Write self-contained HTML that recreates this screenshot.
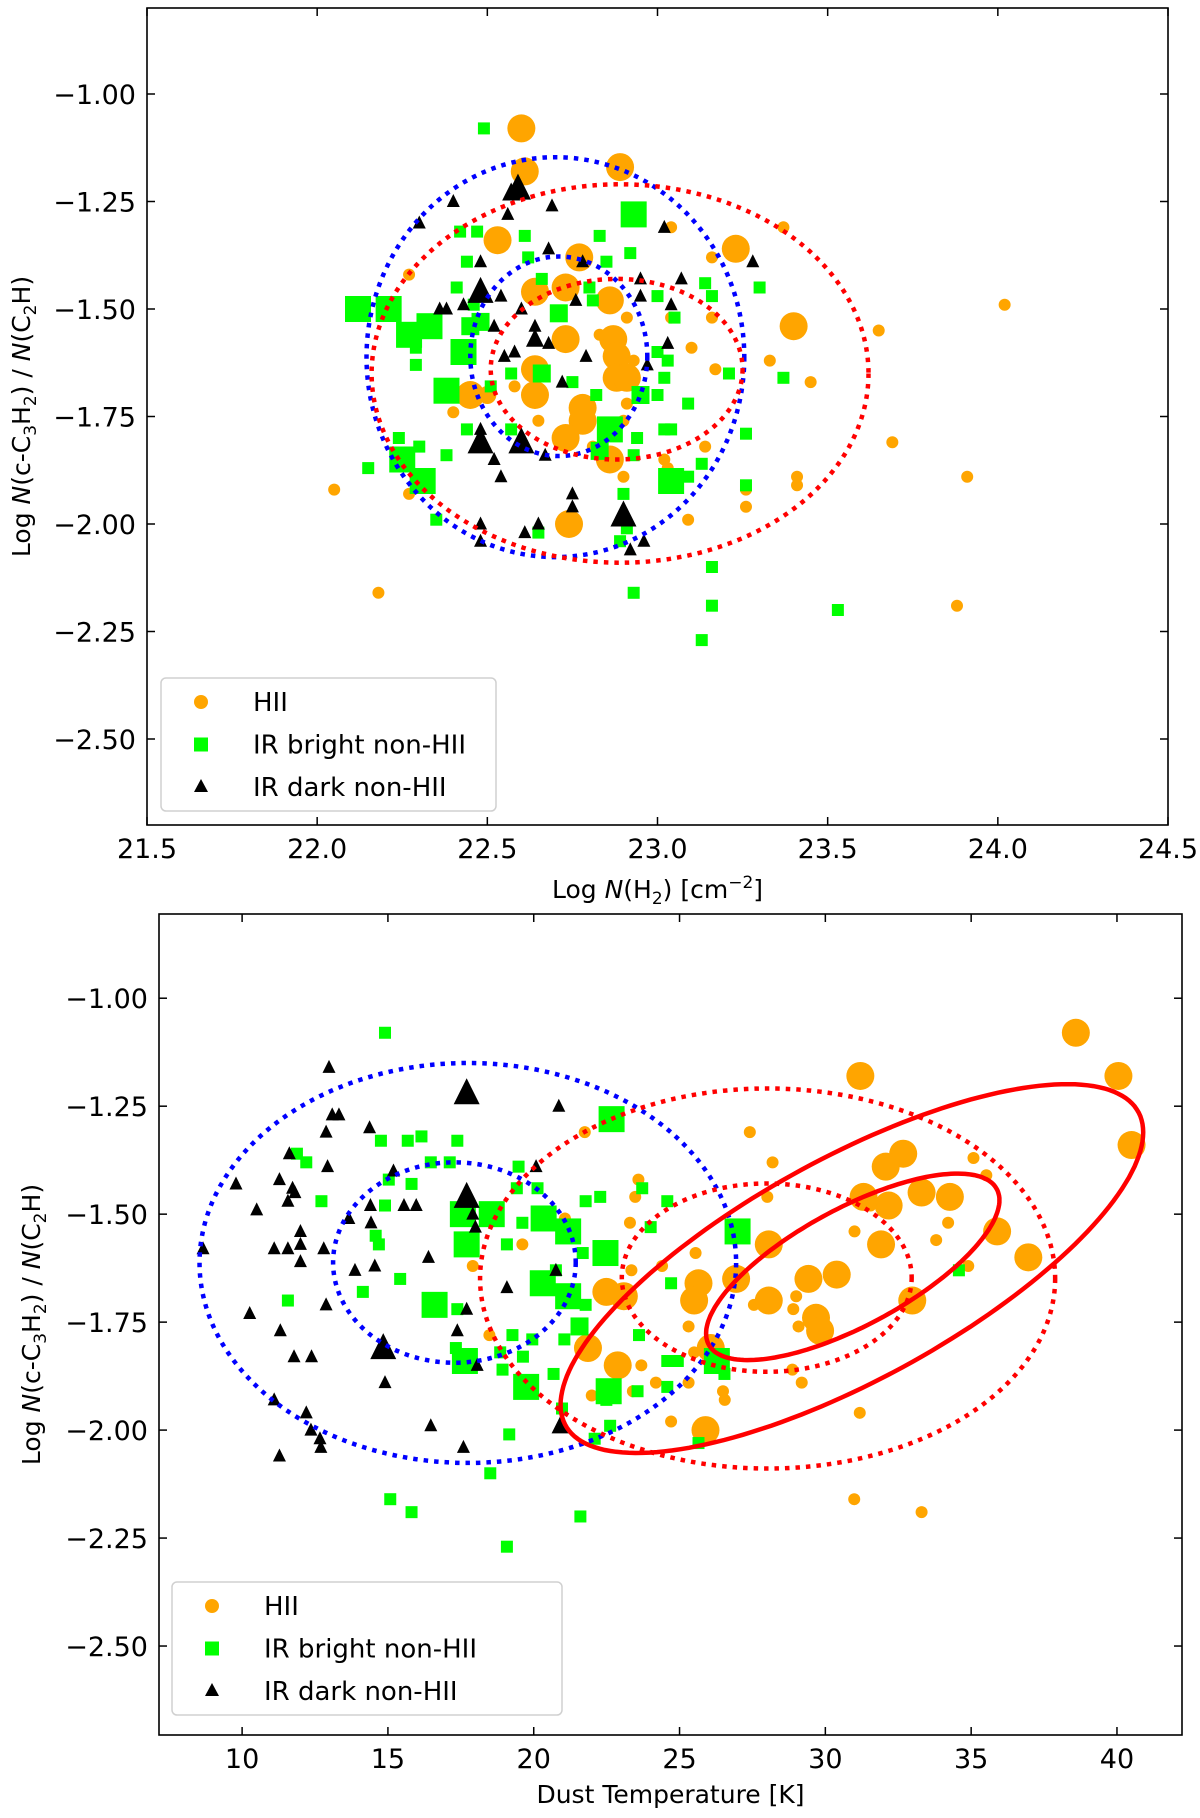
<!DOCTYPE html>
<html><head><meta charset="utf-8"><style>
html,body{margin:0;padding:0;background:#fff;}
svg{display:block;font-family:"DejaVu Sans","Liberation Sans",sans-serif;}
</style></head>
<body>
<svg id="fig" width="1200" height="1818" viewBox="0 0 1200 1818" xmlns="http://www.w3.org/2000/svg"></svg>
<script>
// ---------- data: top panel (Log N(H2)) ----------
const topHiiX=[22.60,22.61,22.89,22.53,23.23,23.37,23.04,22.27,23.16,22.64,22.73,22.77,22.86,23.40,23.65,24.02,22.73,22.87,22.88,22.88,22.91,22.64,22.64,22.45,22.50,22.78,22.78,22.73,22.86,22.74,23.04,23.10,23.16,23.17,23.33,23.45,23.69,23.41,23.91,23.41,23.26,23.26,23.09,23.14,23.02,23.03,22.90,22.27,22.05,22.18,23.88,22.40,22.65,22.58,22.91,22.83,22.93,22.90,22.91,22.81];
const topHiiY=[-1.08,-1.18,-1.17,-1.34,-1.36,-1.31,-1.31,-1.42,-1.38,-1.46,-1.45,-1.38,-1.48,-1.54,-1.55,-1.49,-1.57,-1.57,-1.61,-1.66,-1.66,-1.64,-1.70,-1.70,-1.70,-1.73,-1.76,-1.80,-1.85,-2.00,-1.52,-1.59,-1.52,-1.64,-1.62,-1.67,-1.81,-1.89,-1.89,-1.91,-1.92,-1.96,-1.99,-1.82,-1.85,-1.87,-1.89,-1.93,-1.92,-2.16,-2.19,-1.74,-1.76,-1.68,-1.52,-1.56,-1.62,-1.76,-1.72,-1.82];
const topHiiS=[3,3,3,3,3,1,1,1,1,3,3,3,3,3,1,1,3,3,3,3,3,3,3,3,2,3,3,3,3,3,1,1,1,1,1,1,1,1,1,1,1,1,1,1,1,1,1,1,1,1,1,1,1,1,1,1,1,1,1,1];
const topBrX=[22.49,22.93,22.61,22.42,22.47,22.83,22.92,22.85,22.62,22.44,22.41,22.12,22.21,22.27,22.33,22.29,22.29,22.38,22.43,22.45,22.71,22.66,22.80,22.81,22.66,22.75,22.82,22.95,23.00,23.02,23.09,23.03,23.00,23.05,23.00,23.14,23.16,23.21,23.30,23.37,22.86,22.83,22.94,22.93,23.02,23.04,23.13,23.04,23.09,23.26,23.26,23.16,23.16,23.13,23.53,22.93,22.89,22.91,22.90,22.65,22.35,22.31,22.25,22.24,22.30,22.15,22.38,22.44,22.57,22.51,22.48,22.46,22.57];
const topBrY=[-1.08,-1.28,-1.33,-1.32,-1.32,-1.33,-1.37,-1.39,-1.38,-1.39,-1.45,-1.50,-1.50,-1.56,-1.54,-1.63,-1.59,-1.69,-1.60,-1.54,-1.51,-1.43,-1.45,-1.48,-1.65,-1.67,-1.70,-1.70,-1.70,-1.66,-1.72,-1.62,-1.60,-1.52,-1.47,-1.44,-1.47,-1.65,-1.45,-1.66,-1.78,-1.83,-1.80,-1.84,-1.78,-1.78,-1.86,-1.90,-1.89,-1.79,-1.91,-2.10,-2.19,-2.27,-2.20,-2.16,-2.04,-2.01,-1.93,-2.02,-1.99,-1.90,-1.85,-1.80,-1.82,-1.87,-1.84,-1.78,-1.78,-1.68,-1.53,-1.49,-1.65];
const topBrS=[1,3,1,1,1,1,1,1,1,1,1,3,3,3,3,1,1,3,3,2,2,1,1,1,2,1,1,2,1,1,1,1,1,1,1,1,1,1,1,1,3,2,1,1,1,1,1,3,1,1,1,1,1,1,1,1,1,1,1,1,1,3,3,1,1,1,1,1,1,1,2,1,1];
const topDkX=[22.59,22.57,22.69,22.40,22.30,22.56,23.02,23.28,23.07,22.95,22.48,22.48,22.43,22.36,22.38,22.54,22.68,22.78,22.76,22.95,22.60,22.52,22.64,22.64,22.68,22.55,22.58,22.79,23.03,23.04,22.97,22.72,22.48,22.60,22.48,22.67,22.52,22.54,22.75,22.75,22.90,22.48,22.48,22.65,22.61,22.92,22.96];
const topDkY=[-1.22,-1.23,-1.26,-1.25,-1.30,-1.28,-1.31,-1.39,-1.43,-1.43,-1.39,-1.46,-1.49,-1.50,-1.50,-1.47,-1.36,-1.39,-1.48,-1.47,-1.50,-1.54,-1.54,-1.57,-1.58,-1.61,-1.60,-1.61,-1.58,-1.49,-1.63,-1.67,-1.81,-1.81,-1.78,-1.84,-1.85,-1.89,-1.93,-1.96,-1.98,-2.00,-2.04,-2.00,-2.02,-2.06,-2.04];
const topDkS=[3,2,1,1,1,1,1,1,1,1,1,3,1,1,1,1,1,1,1,1,1,1,1,2,1,1,1,1,1,1,1,1,3,3,1,1,1,1,1,1,3,1,1,1,1,1,1];
// ellipses (center x, center y, radius x, radius y)
const topEllBlue=[[22.70,-1.612,0.555,0.465],[22.71,-1.610,0.26,0.232]];
const topEllRed=[[22.89,-1.650,0.73,0.44],[22.88,-1.640,0.37,0.21]];
const topXTicks=[21.5,22.0,22.5,23.0,23.5,24.0,24.5];
const topXLabels=["21.5","22.0","22.5","23.0","23.5","24.0","24.5"];
const yTicks=[-1.00,-1.25,-1.50,-1.75,-2.00,-2.25,-2.50];
const yLabels=["\u22121.00","\u22121.25","\u22121.50","\u22121.75","\u22122.00","\u22122.25","\u22122.50"];

// ---------- data: bottom panel (Dust temperature) ----------
const botHiiX=[38.59,31.20,40.05,40.50,27.41,21.75,28.19,32.67,32.07,35.08,35.52,33.30,34.27,31.31,32.17,31.55,28.01,23.59,23.48,23.30,21.07,28.06,31.00,31.91,33.80,34.21,35.89,36.96,34.90,25.55,26.94,25.65,25.50,22.49,23.09,24.40,23.35,28.06,29.42,30.39,29.0,28.9,27.55,29.68,29.82,29.08,32.98,25.31,26.07,25.50,21.86,18.48,17.91,19.61,22.88,23.69,24.19,23.40,21.99,25.31,26.49,26.55,25.89,24.71,28.87,29.19,31.18,30.99,33.30];
const botHiiY=[-1.08,-1.18,-1.18,-1.34,-1.31,-1.31,-1.38,-1.36,-1.39,-1.37,-1.41,-1.45,-1.46,-1.46,-1.48,-1.48,-1.46,-1.42,-1.46,-1.52,-1.51,-1.57,-1.54,-1.57,-1.56,-1.52,-1.54,-1.60,-1.62,-1.59,-1.65,-1.66,-1.70,-1.68,-1.69,-1.62,-1.63,-1.70,-1.65,-1.64,-1.69,-1.72,-1.71,-1.74,-1.77,-1.76,-1.70,-1.76,-1.81,-1.82,-1.81,-1.78,-1.62,-1.57,-1.85,-1.85,-1.89,-1.91,-1.92,-1.89,-1.91,-1.93,-2.00,-1.98,-1.86,-1.89,-1.96,-2.16,-2.19];
const botHiiS=[3,3,3,3,1,1,1,3,3,1,1,3,3,3,3,1,1,1,1,1,1,3,1,3,1,1,3,3,1,1,3,3,3,3,3,1,1,3,3,3,1,1,1,3,3,1,3,1,3,1,3,1,1,1,3,1,1,1,1,1,1,1,3,1,1,1,1,1,1];
const botBrX=[14.90,22.67,17.38,16.15,15.68,14.76,11.88,12.20,17.12,16.47,15.81,15.03,12.72,14.90,14.58,14.69,14.14,11.57,15.42,16.60,17.38,17.57,18.56,17.70,19.48,20.13,19.42,19.61,19.08,20.34,21.18,20.31,21.18,20.76,21.78,22.28,22.46,21.68,21.78,21.57,21.05,19.27,19.95,19.63,18.85,18.93,17.64,17.33,19.74,20.68,22.57,22.49,23.56,24.58,24.94,24.58,23.61,24.58,23.72,24.01,24.71,26.99,26.28,26.54,25.65,22.62,22.09,19.16,18.51,15.08,15.81,21.60,19.08,34.58,20.97];
const botBrY=[-1.08,-1.28,-1.33,-1.32,-1.33,-1.33,-1.36,-1.38,-1.38,-1.38,-1.43,-1.42,-1.47,-1.48,-1.55,-1.57,-1.68,-1.70,-1.65,-1.71,-1.72,-1.50,-1.50,-1.57,-1.39,-1.44,-1.44,-1.52,-1.57,-1.51,-1.54,-1.66,-1.69,-1.63,-1.47,-1.46,-1.59,-1.59,-1.71,-1.76,-1.79,-1.78,-1.79,-1.83,-1.82,-1.86,-1.84,-1.81,-1.90,-1.87,-1.91,-1.93,-1.91,-1.90,-1.84,-1.84,-1.78,-1.47,-1.44,-1.53,-1.66,-1.54,-1.84,-1.87,-2.03,-1.99,-2.02,-2.01,-2.10,-2.16,-2.19,-2.20,-2.27,-1.63,-1.95];
const botBrS=[1,3,1,1,1,1,1,1,1,1,1,1,1,1,1,1,1,1,1,3,1,3,3,3,1,1,1,1,1,3,3,3,3,1,1,1,3,1,1,2,1,1,1,1,1,1,3,1,3,1,3,1,1,1,1,1,1,1,1,1,1,3,3,1,1,1,1,1,1,1,1,1,1,1,1];
const botDkX=[8.66,9.79,10.50,10.26,11.10,11.31,11.10,11.28,11.62,11.28,11.57,11.73,11.81,11.57,12.0,12.0,12.0,11.78,12.20,12.36,12.38,12.67,12.70,12.80,12.88,12.93,12.88,12.98,13.09,13.32,13.66,13.87,14.37,14.40,14.42,14.55,14.84,14.90,15.19,15.55,15.97,16.39,16.47,17.59,17.38,17.70,17.70,17.70,17.91,18.0,19.08,20.08,20.86,20.76,20.92,18.06];
const botDkY=[-1.58,-1.43,-1.49,-1.73,-1.58,-1.77,-1.93,-2.06,-1.36,-1.42,-1.47,-1.44,-1.45,-1.58,-1.54,-1.57,-1.61,-1.83,-1.96,-2.00,-1.83,-2.02,-2.04,-1.58,-1.71,-1.39,-1.31,-1.16,-1.27,-1.27,-1.51,-1.63,-1.30,-1.48,-1.52,-1.62,-1.81,-1.89,-1.40,-1.48,-1.48,-1.60,-1.99,-2.04,-1.77,-1.72,-1.22,-1.46,-1.50,-1.53,-1.67,-1.39,-1.25,-1.63,-1.99,-1.85];
const botDkS=[1,1,1,1,1,1,1,1,1,1,1,1,1,1,1,1,1,1,1,1,1,1,1,1,1,1,1,1,1,1,1,1,1,1,1,1,3,1,1,1,1,1,1,1,1,1,3,3,1,1,1,1,1,1,2,1];
const botEllBlue=[[17.74,-1.613,9.2,0.463],[17.28,-1.612,4.16,0.232]];
const botEllRed=[[28.02,-1.649,9.86,0.44],[27.99,-1.647,4.97,0.218]];
// tilted solid ellipses: center x, center y, vector A (dx,dy), vector B (dx,dy)
const botEllSolid=[[30.91,-1.626,9.99,0.3155,0,-0.2877],[30.94,-1.622,5.03,0.1543,0,-0.151]];
const botXTicks=[10,15,20,25,30,35,40];
const botXLabels=["10","15","20","25","30","35","40"];

const NS="http://www.w3.org/2000/svg";
const svg=document.getElementById('fig');
function mk(tag,attrs,parent){const e=document.createElementNS(NS,tag);for(const k in attrs)e.setAttribute(k,attrs[k]);(parent||svg).appendChild(e);return e;}

const ORANGE="#ffa500",GREEN="#00ff00";
const R={1:6,2:9,3:14};
const Q={1:6,2:9,3:13};
const T={1:6.5,2:9,3:13};

function panel(cfg){
  const g=mk('g',{});
  
  
  const L=cfg.L,Rt=cfg.R,Tp=cfg.T,B=cfg.B;
  const X=v=>L+(v-cfg.x0)/(cfg.x1-cfg.x0)*(Rt-L);
  const Y=v=>Tp+(cfg.y1-v)/(cfg.y1-cfg.y0)*(B-Tp);
  const clip=mk('clipPath',{id:cfg.name+'-clip'},g);
  mk('rect',{x:L,y:Tp,width:Rt-L,height:B-Tp},clip);
  const plot=mk('g',{'clip-path':'url(#'+cfg.name+'-clip)'},g);
  
  
  cfg.hx.forEach((v,i)=>{
    const c=mk('circle',{cx:X(v),cy:Y(cfg.hy[i]),r:R[cfg.hs[i]],fill:ORANGE},plot);
    
    
  });
  cfg.bx.forEach((v,i)=>{
    const h=Q[cfg.bs[i]];
    const c=mk('rect',{x:X(v)-h,y:Y(cfg.by[i])-h,width:2*h,height:2*h,fill:GREEN},plot);
    
    
  });
  cfg.dx.forEach((v,i)=>{
    const h=T[cfg.ds[i]],x=X(v),y=Y(cfg.dy[i]);
    const c=mk('polygon',{points:`${x},${y-h*1.15} ${x-h},${y+h*0.85} ${x+h},${y+h*0.85}`,fill:'#000'},plot);
    
    
  });
  const ell=(arr,color,nm)=>arr.forEach(e=>{
    const cx=X(e[0]),cy=Y(e[1]),rx=X(e[0]+e[2])-cx,ry=cy-Y(e[1]+e[3]);
    const el=mk('ellipse',{cx:cx,cy:cy,rx:rx,ry:ry,fill:'none',stroke:color,'stroke-width':4.5,'stroke-dasharray':'4.5,6'},plot);
    
    
  });
  ell(cfg.eb,'#0000ff','blue-dotted-ellipse');
  ell(cfg.er,'#ff0000','red-dotted-ellipse');
  if(cfg.es){cfg.es.forEach(e=>{
    let d='';
    for(let k=0;k<=180;k++){const t=k/180*2*Math.PI;
      const vx=e[0]+Math.cos(t)*e[2]+Math.sin(t)*e[4];
      const vy=e[1]+Math.cos(t)*e[3]+Math.sin(t)*e[5];
      d+=(k?'L':'M')+X(vx).toFixed(1)+','+Y(vy).toFixed(1);}
    const p=mk('path',{d:d+'Z',fill:'none',stroke:'#ff0000','stroke-width':4.5},plot);
    
    
  });}
  const fr=mk('rect',{x:L,y:Tp,width:Rt-L,height:B-Tp,fill:'none',stroke:'#000','stroke-width':1.6},g);
  
  
  cfg.xt.forEach((v,i)=>{
    const x=X(v);
    mk('line',{x1:x,y1:B,x2:x,y2:B-8,stroke:'#000','stroke-width':1.5},g);
    mk('line',{x1:x,y1:Tp,x2:x,y2:Tp+8,stroke:'#000','stroke-width':1.5},g);
    const t=mk('text',{x:x,y:B+33,'font-size':27,'text-anchor':'middle',fill:'#000'},g);
    t.textContent=cfg.xl[i];
    
    
  });
  yTicks.forEach((v,i)=>{
    const y=Y(v);
    mk('line',{x1:L,y1:y,x2:L+8,y2:y,stroke:'#000','stroke-width':1.5},g);
    mk('line',{x1:Rt,y1:y,x2:Rt-8,y2:y,stroke:'#000','stroke-width':1.5},g);
    const t=mk('text',{x:L-11,y:y+10,'font-size':27,'text-anchor':'end',fill:'#000'},g);
    t.textContent=yLabels[i];
    
    
  });
  const yt=mk('text',{transform:`translate(${cfg.ytx},${(Tp+B)/2}) rotate(-90)`,'font-size':25,'text-anchor':'middle',fill:'#000'},g);
  
  
  yt.innerHTML='Log <tspan font-style="italic">N</tspan>(c-C<tspan font-size="17" dy="6">3</tspan><tspan dy="-6">H</tspan><tspan font-size="17" dy="6">2</tspan><tspan dy="-6">) / </tspan><tspan font-style="italic">N</tspan>(C<tspan font-size="17" dy="6">2</tspan><tspan dy="-6">H)</tspan>';
  const xt=mk('text',{x:(L+Rt)/2,y:cfg.xty,'font-size':25,'text-anchor':'middle',fill:'#000'},g);
  
  
  xt.innerHTML=cfg.xtitle;
  const lg=mk('g',{},g);
  
  
  mk('rect',{x:cfg.lx,y:cfg.ly,width:cfg.lw,height:133,rx:5,fill:'#fff',stroke:'#d0d0d0','stroke-width':1.5},lg);
  const items=[['HII','c'],['IR bright non-HII','s'],['IR dark non-HII','t']];
  items.forEach((it,i)=>{
    const my=cfg.ly+24+i*42.5,mx=cfg.lx+40;
    let m;
    if(it[1]=='c')m=mk('circle',{cx:mx,cy:my,r:7,fill:ORANGE},lg);
    else if(it[1]=='s')m=mk('rect',{x:mx-7,y:my-7,width:14,height:14,fill:GREEN},lg);
    else m=mk('polygon',{points:`${mx},${my-8} ${mx-7},${my+5} ${mx+7},${my+5}`,fill:'#000'},lg);
    
    
    const t=mk('text',{x:cfg.lx+92,y:my+9,'font-size':26,fill:'#000'},lg);
    t.textContent=it[0];
    
    
  });
}

panel({name:'top-panel',L:147,R:1168,T:8,B:825,x0:21.5,x1:24.5,y0:-2.70,y1:-0.80,
  hx:topHiiX,hy:topHiiY,hs:topHiiS,bx:topBrX,by:topBrY,bs:topBrS,dx:topDkX,dy:topDkY,ds:topDkS,
  eb:topEllBlue,er:topEllRed,xt:topXTicks,xl:topXLabels,ytx:30,xty:898,
  xtitle:'Log <tspan font-style="italic">N</tspan>(H<tspan font-size="17" dy="6">2</tspan><tspan dy="-6">) [cm</tspan><tspan font-size="17" dy="-10">\u22122</tspan><tspan dy="10">]</tspan>',
  lx:161,ly:678,lw:335});
panel({name:'bottom-panel',L:159,R:1182,T:914,B:1735,x0:7.15,x1:42.23,y0:-2.706,y1:-0.805,
  hx:botHiiX,hy:botHiiY,hs:botHiiS,bx:botBrX,by:botBrY,bs:botBrS,dx:botDkX,dy:botDkY,ds:botDkS,
  eb:botEllBlue,er:botEllRed,es:botEllSolid,xt:botXTicks,xl:botXLabels,ytx:40,xty:1803,
  xtitle:'Dust Temperature [K]',
  lx:172,ly:1582,lw:390});
</script>
</body></html>
